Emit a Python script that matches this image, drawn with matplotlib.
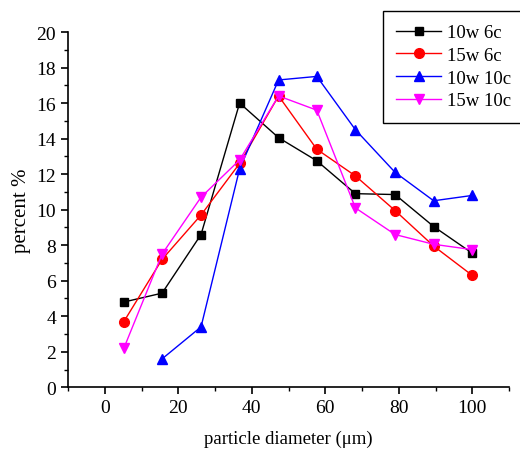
import matplotlib
matplotlib.use("Agg")
import matplotlib.pyplot as plt
from matplotlib.ticker import MultipleLocator

plt.rcParams['font.family'] = ['Liberation Serif', 'DejaVu Serif']

# particle size distribution
diameter = [5.2, 15.6, 26.2, 36.7, 47.3, 57.7, 68.2, 79.0, 89.5, 100.0]
w10_c6 = [4.8, 5.3, 8.6, 16.0, 14.05, 12.75, 10.9, 10.85, 9.05, 7.55]
w15_c6 = [3.7, 7.2, 9.7, 12.6, 16.4, 13.4, 11.9, 9.95, 7.95, 6.3]
w10_c10 = [1.6, 3.4, 12.3, 17.3, 17.5, 14.5, 12.1, 10.5, 10.8]
w15_c10 = [2.2, 7.5, 10.7, 12.8, 16.4, 15.6, 10.1, 8.6, 8.05, 7.75]

fig = plt.figure(figsize=(5.2, 4.52), dpi=100)
ax = fig.add_axes([68 / 520, 1 - 388.3 / 452, (509 - 68) / 520, (388.3 - 33) / 452])

ax.plot(diameter, w10_c6, color="black", marker="s", ms=6, lw=1, label="10w 6c")
ax.plot(diameter, w15_c6, color="red", marker="o", ms=7, lw=1, label="15w 6c")
ax.plot(diameter[1:], w10_c10, color="blue", marker="^", ms=7, lw=1, label="10w 10c")
ax.plot(diameter, w15_c10, color="magenta", marker="v", ms=7, lw=1, label="15w 10c")

ax.set_xlim(-10, 110)
ax.set_ylim(0, 20)
ax.xaxis.set_major_locator(MultipleLocator(20))
ax.xaxis.set_minor_locator(MultipleLocator(10))
ax.yaxis.set_major_locator(MultipleLocator(2))
ax.yaxis.set_minor_locator(MultipleLocator(1))

for s in ["top", "right"]:
    ax.spines[s].set_visible(False)
for s in ["left", "bottom"]:
    ax.spines[s].set_linewidth(1.2)

ax.tick_params(which="major", direction="out", length=5, width=1.2, labelsize=14)
ax.tick_params(which="minor", direction="out", length=3, width=1.0)

ax.set_xlabel("particle diameter (\u03bcm)", fontsize=13.5, labelpad=10)
ax.set_ylabel("percent %", fontsize=15, labelpad=4)

leg = fig.legend(loc="upper left", bbox_to_anchor=(383 / 520, 1 - 12 / 452),
                 borderaxespad=0, fontsize=13.5, frameon=True, fancybox=False,
                 framealpha=1, edgecolor="black", handlelength=2.4,
                 handletextpad=0.3, borderpad=0.7, labelspacing=0.3)
leg.get_frame().set_linewidth(1.0)

fig.savefig("out.png", dpi=100)
